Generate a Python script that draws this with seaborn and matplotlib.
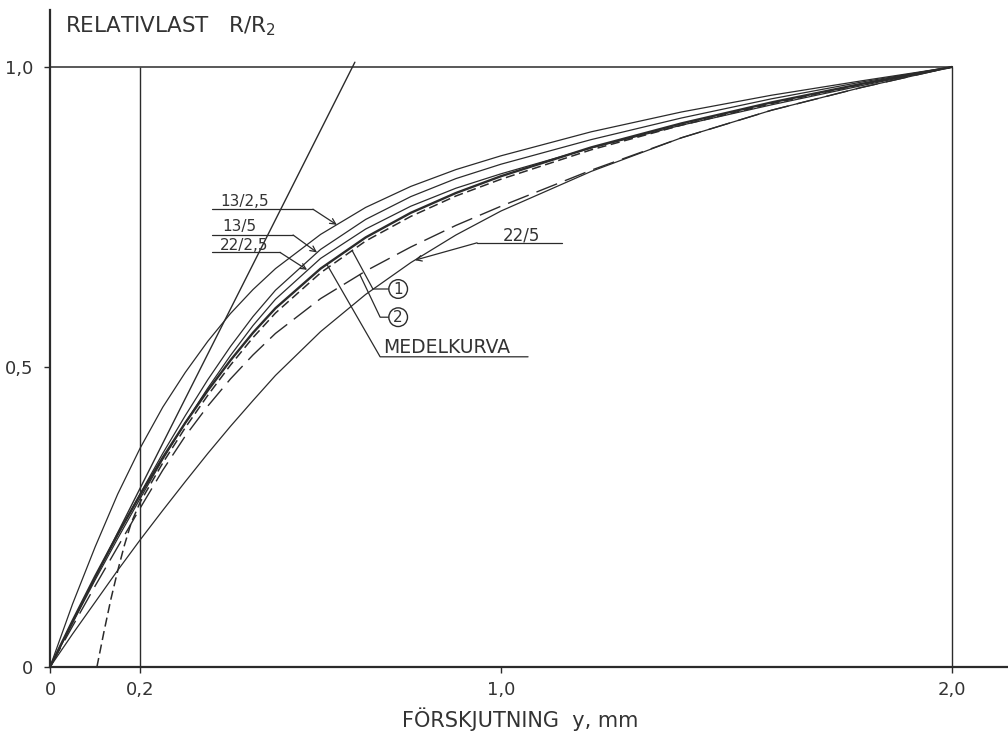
import matplotlib
matplotlib.use("Agg")
import matplotlib.pyplot as plt
import seaborn as sns
import pandas as pd

# Displacement y (mm) at which each load curve is tabulated
x_grid = [0.0, 0.05, 0.1, 0.15, 0.2, 0.25, 0.3, 0.35, 0.4, 0.45, 0.5,
          0.6, 0.7, 0.8, 0.9, 1.0, 1.2, 1.4, 1.6, 1.8, 2.0]

# Relative load R/R2 for the individual test series
r_13_25 = [0.0, 0.105, 0.200, 0.288, 0.365, 0.433, 0.491, 0.543, 0.589, 0.629, 0.664,
           0.721, 0.766, 0.801, 0.829, 0.852, 0.892, 0.925, 0.953, 0.977, 1.0]
r_13_5 = [0.0, 0.075, 0.149, 0.220, 0.289, 0.356, 0.419, 0.479, 0.534, 0.584, 0.628,
          0.696, 0.746, 0.784, 0.814, 0.838, 0.879, 0.915, 0.947, 0.975, 1.0]
r_22_25 = [0.0, 0.073, 0.145, 0.214, 0.281, 0.346, 0.407, 0.465, 0.519, 0.569, 0.613,
           0.681, 0.730, 0.768, 0.798, 0.822, 0.865, 0.903, 0.937, 0.969, 1.0]
r_22_5 = [0.0, 0.055, 0.108, 0.161, 0.212, 0.261, 0.309, 0.356, 0.401, 0.444, 0.486,
          0.559, 0.621, 0.674, 0.720, 0.760, 0.826, 0.882, 0.928, 0.966, 1.0]

# Mean curve (MEDELKURVA)
r_mean = [0.0, 0.077, 0.151, 0.221, 0.287, 0.349, 0.407, 0.461, 0.511, 0.557, 0.598,
          0.664, 0.716, 0.757, 0.790, 0.818, 0.866, 0.906, 0.941, 0.972, 1.0]

# Curve 1 (short dashes) starts at y = 0.1 mm
x_c1 = [0.104, 0.12, 0.135, 0.15, 0.165, 0.18, 0.2, 0.25, 0.3, 0.35, 0.4, 0.45, 0.5,
        0.6, 0.7, 0.8, 0.9, 1.0, 1.2, 1.4, 1.6, 1.8, 2.0]
r_c1 = [0.0, 0.060, 0.113, 0.160, 0.203, 0.240, 0.275, 0.340, 0.399, 0.453, 0.503, 0.549, 0.590,
        0.657, 0.710, 0.751, 0.785, 0.813, 0.862, 0.903, 0.939, 0.971, 1.0]

# Curve 2 (long dashes)
r_c2 = [0.0, 0.068, 0.135, 0.200, 0.265, 0.328, 0.385, 0.435, 0.480, 0.520, 0.556,
        0.614, 0.660, 0.700, 0.736, 0.768, 0.828, 0.882, 0.928, 0.966, 1.0]

# Initial tangent line
x_tan = [0.0, 0.676]
r_tan = [0.0, 1.008]

x_ticks = [0.0, 0.2, 1.0, 2.0]
x_ticklabels = ["0", "0,2", "1,0", "2,0"]
y_ticks = [0.0, 0.5, 1.0]
y_ticklabels = ["0", "0,5", "1,0"]

INK = "#2b2b2b"
TXT = "#333333"

sns.set_style("ticks")
plt.rcParams["font.family"] = ["DejaVu Sans"]

fig = plt.figure(figsize=(10.08, 7.33), dpi=100)
fig.patch.set_facecolor("white")
ax = fig.add_axes([50 / 1008, 66 / 733, 958 / 1008, 664 / 733])
ax.set_facecolor("white")

thin = 0.9

def curve(xs, ys, lw=thin, ls="-"):
    df = pd.DataFrame({"x": xs, "y": ys})
    sns.lineplot(data=df, x="x", y="y", ax=ax, color=INK, lw=lw, ls=ls,
                 sort=False, estimator=None)

curve(x_grid, r_13_25)
curve(x_grid, r_13_5)
curve(x_grid, r_22_25)
curve(x_grid, r_22_5)
curve(x_grid, r_c2, lw=1.0, ls=(0, (16, 6)))
curve(x_c1, r_c1, lw=1.1, ls=(0, (6, 3)))
curve(x_grid, r_mean, lw=1.7)
curve(x_tan, r_tan, lw=1.0)

# Frame of the diagram
ax.hlines(1.0, 0.0, 2.0, color=INK, lw=1.1)
ax.vlines([0.2, 2.0], 0.0, 1.0, color=INK, lw=1.0)

ax.set_xlim(0, 958 / 451)
ax.set_ylim(0, 664 / 600)
ax.spines["top"].set_visible(False)
ax.spines["right"].set_visible(False)
for s in ("left", "bottom"):
    ax.spines[s].set_color(INK)
    ax.spines[s].set_linewidth(1.6)
ax.spines["left"].set_bounds(0, 657 / 600)

ax.set_xticks(x_ticks)
ax.set_xticklabels(x_ticklabels)
ax.set_yticks(y_ticks)
ax.set_yticklabels(y_ticklabels)
ax.tick_params(axis="both", direction="out", length=4, width=1.0, color=INK,
               labelsize=13, labelcolor=TXT)
ax.tick_params(axis="x", pad=6)
ax.tick_params(axis="y", pad=8)
ax.set_xlabel("")
ax.set_ylabel("")

fig.text(65 / 1008, 1 - 32 / 733, "RELATIVLAST   R/R$_2$", fontsize=15.5,
         color=TXT, ha="left", va="baseline")
fig.text(520 / 1008, 1 - 727 / 733, "FÖRSKJUTNING  y, mm", fontsize=15,
         color=TXT, ha="center", va="baseline")

# Labels with leaders and arrows
lab_kw = dict(fontsize=11, color=TXT, ha="left", va="baseline")
arrow_kw = dict(arrowstyle="->", lw=0.9, color=INK, shrinkA=0, shrinkB=0,
                mutation_scale=10)

def pointer(text, tx, ty, line_x0, line_x1, line_y, tip):
    ax.text(tx, ty, text, **lab_kw)
    ax.plot([line_x0, line_x1], [line_y, line_y], color=INK, lw=0.9)
    ax.annotate("", xy=tip, xytext=(line_x1, line_y), arrowprops=arrow_kw)

pointer("13/2,5", 0.377, 0.768, 0.359, 0.583, 0.763, (0.636, 0.737))
pointer("13/5", 0.381, 0.726, 0.359, 0.539, 0.720, (0.592, 0.691))
pointer("22/2,5", 0.377, 0.695, 0.359, 0.510, 0.691, (0.570, 0.662))

ax.text(1.004, 0.711, "22/5", fontsize=12, color=TXT, ha="left", va="baseline")
ax.plot([0.947, 1.135], [0.707, 0.707], color=INK, lw=0.9)
ax.annotate("", xy=(0.809, 0.678), xytext=(0.947, 0.707), arrowprops=arrow_kw)

# Leaders to curves 1, 2 and the mean curve
ax.plot([0.670, 0.716, 0.752], [0.694, 0.630, 0.630], color=INK, lw=0.9)
ax.plot([0.687, 0.732, 0.752], [0.654, 0.583, 0.583], color=INK, lw=0.9)
circ = dict(boxstyle="circle,pad=0.12", fc="white", ec=INK, lw=1.0)
ax.text(0.772, 0.630, "1", fontsize=11, color=TXT, ha="center", va="center", bbox=circ)
ax.text(0.772, 0.583, "2", fontsize=11, color=TXT, ha="center", va="center", bbox=circ)

ax.plot([0.614, 0.732, 1.06], [0.671, 0.517, 0.517], color=INK, lw=0.9)
ax.text(0.738, 0.523, "MEDELKURVA", fontsize=13.5, color=TXT, ha="left", va="baseline")

fig.savefig("out.png", dpi=100, facecolor="white")
